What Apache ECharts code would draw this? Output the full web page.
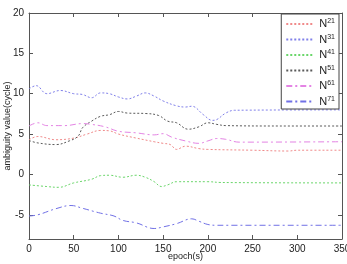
<!DOCTYPE html>
<html lang="en">
<head>
    <meta charset="UTF-8">
    <title>ambiguity</title>
    <script src="https://cdn.jsdelivr.net/npm/echarts@6/dist/echarts.min.js"></script>
    <style>
        html, body { margin: 0; padding: 0; background: #fff; }
        #container { width: 347px; height: 264px; }
    </style>
</head>
<body>
    <div id="container"></div>
</body>
<script>
    // values, [epoch, value]
    var n21 = [[0, 4.3], [10, 4.7], [30, 4.3], [50, 4.5], [65, 5.0], [80, 5.45], [90, 5.4], [100, 5.0], [120, 4.5], [140, 4.05], [150, 3.85], [158, 3.7], [165, 3.1], [175, 3.5], [190, 3.2], [200, 3.1], [250, 3.0], [290, 2.9], [300, 3.0], [350, 3.0]];
    var n31 = [[0, 10.6], [8, 11.0], [20, 10.0], [35, 10.4], [50, 10.0], [60, 9.9], [70, 9.5], [80, 10.1], [90, 10.0], [100, 9.6], [110, 9.35], [120, 9.7], [130, 10.1], [140, 9.7], [150, 9.1], [165, 8.5], [175, 8.35], [182, 8.45], [195, 7.4], [205, 6.7], [210, 6.8], [220, 7.6], [230, 7.95], [350, 8.0]];
    var n41 = [[0, -1.3], [20, -1.5], [33, -1.6], [50, -1.05], [70, -0.6], [80, -0.15], [90, -0.1], [105, -0.35], [120, -0.1], [130, -0.35], [140, -0.9], [148, -1.5], [155, -1.3], [165, -0.9], [200, -0.9], [215, -1.0], [350, -1.05]];
    var n51 = [[0, 4.2], [10, 3.9], [30, 3.7], [45, 4.15], [55, 4.75], [60, 5.8], [70, 6.6], [80, 7.2], [90, 7.4], [100, 7.8], [110, 7.6], [130, 7.55], [145, 7.3], [155, 6.6], [165, 6.4], [178, 5.6], [190, 5.9], [200, 6.4], [210, 6.2], [220, 6.05], [280, 6.0], [350, 6.0]];
    var n61 = [[0, 6.0], [10, 6.4], [20, 6.05], [40, 6.05], [60, 6.3], [70, 6.2], [85, 5.9], [100, 5.35], [120, 5.15], [140, 4.9], [150, 5.05], [160, 4.6], [175, 4.15], [190, 3.85], [200, 4.15], [210, 4.45], [220, 4.35], [235, 4.0], [350, 4.05]];
    var n71 = [[0, -5.15], [10, -5.0], [30, -4.25], [47, -3.85], [60, -4.2], [80, -4.8], [95, -5.15], [105, -5.7], [120, -6.0], [140, -6.7], [150, -6.5], [165, -6.1], [182, -5.5], [190, -5.8], [200, -6.2], [210, -6.3], [350, -6.3]];

    var names = ['21', '31', '41', '51', '61', '71'];
    var colors = ['#f08a8a', '#8080ea', '#6ad66a', '#5a5a5a', '#e484e4', '#7070e6'];
    var dashes = [[2, 2], [2, 2], [2, 2], [2, 2], [6, 3, 2, 3], [6, 3, 2, 3]];
    var yTicks = [-5, 0, 5, 10, 15, 20];

    var chartDom = document.getElementById('container');
    var myChart = echarts.init(chartDom);

    var axisCol = '#555';
    var makeX = function (pos, labels) {
        return {
            type: 'value', position: pos, min: 0, max: 350, interval: 50,
            axisLine: { show: true, onZero: false, lineStyle: { color: axisCol } },
            axisTick: { show: true, inside: true, length: 4, lineStyle: { color: axisCol } },
            axisLabel: { show: labels, color: '#222', fontSize: 10, margin: 5, fontFamily: 'Liberation Sans' },
            splitLine: { show: false },
            name: labels ? 'epoch(s)' : '', nameLocation: 'middle', nameGap: 13, nameMoveOverlap: false,
            nameTextStyle: { color: '#222', fontSize: 9, fontFamily: 'Liberation Sans' }
        };
    };
    var makeY = function (pos, labels) {
        return {
            type: 'value', position: pos, min: -8, max: 20,
            axisLine: { show: true, onZero: false, lineStyle: { color: axisCol } },
            axisTick: { show: true, inside: true, length: 4, customValues: yTicks, lineStyle: { color: axisCol } },
            axisLabel: { show: labels, customValues: yTicks, color: '#222', fontSize: 10, margin: 5, fontFamily: 'Liberation Sans' },
            splitLine: { show: false },
            name: labels ? 'ambiguity value(cycle)' : '', nameLocation: 'middle', nameGap: 17, nameMoveOverlap: false,
            nameTextStyle: { color: '#222', fontSize: 9, fontFamily: 'Liberation Sans' }
        };
    };

    var allData = [n21, n31, n41, n51, n61, n71];
    var series = allData.map(function (d, i) {
        return {
            name: names[i], type: 'line', data: d, smooth: 0.4,
            showSymbol: false, symbol: 'none',
            lineStyle: { color: colors[i], width: 1, type: dashes[i] },
            itemStyle: { color: colors[i] }
        };
    });

    myChart.setOption({
        backgroundColor: '#fff',
        animation: false,
        grid: { left: 29, right: 5, top: 13, bottom: 25, outerBoundsMode: 'none', containLabel: false },
        xAxis: [makeX('bottom', true), makeX('top', false)],
        yAxis: [makeY('left', true), makeY('right', false)],
        legend: {
            orient: 'vertical', right: 8, top: 14,
            backgroundColor: '#fff', borderColor: '#444', borderWidth: 1,
            padding: [4, 4, 2, 4], itemGap: 4, itemWidth: 28, itemHeight: 11,
            itemStyle: { opacity: 0 },
            data: names,
            formatter: function (n) { return '{n|N}{s|' + n + '}'; },
            textStyle: {
                rich: {
                    n: { fontSize: 11, color: '#222', fontFamily: 'Liberation Sans' },
                    s: { fontSize: 7, color: '#222', fontFamily: 'Liberation Sans', verticalAlign: 'top', padding: [0, 0, 5, 0] }
                }
            }
        },
        series: series
    });
</script>
</html>
